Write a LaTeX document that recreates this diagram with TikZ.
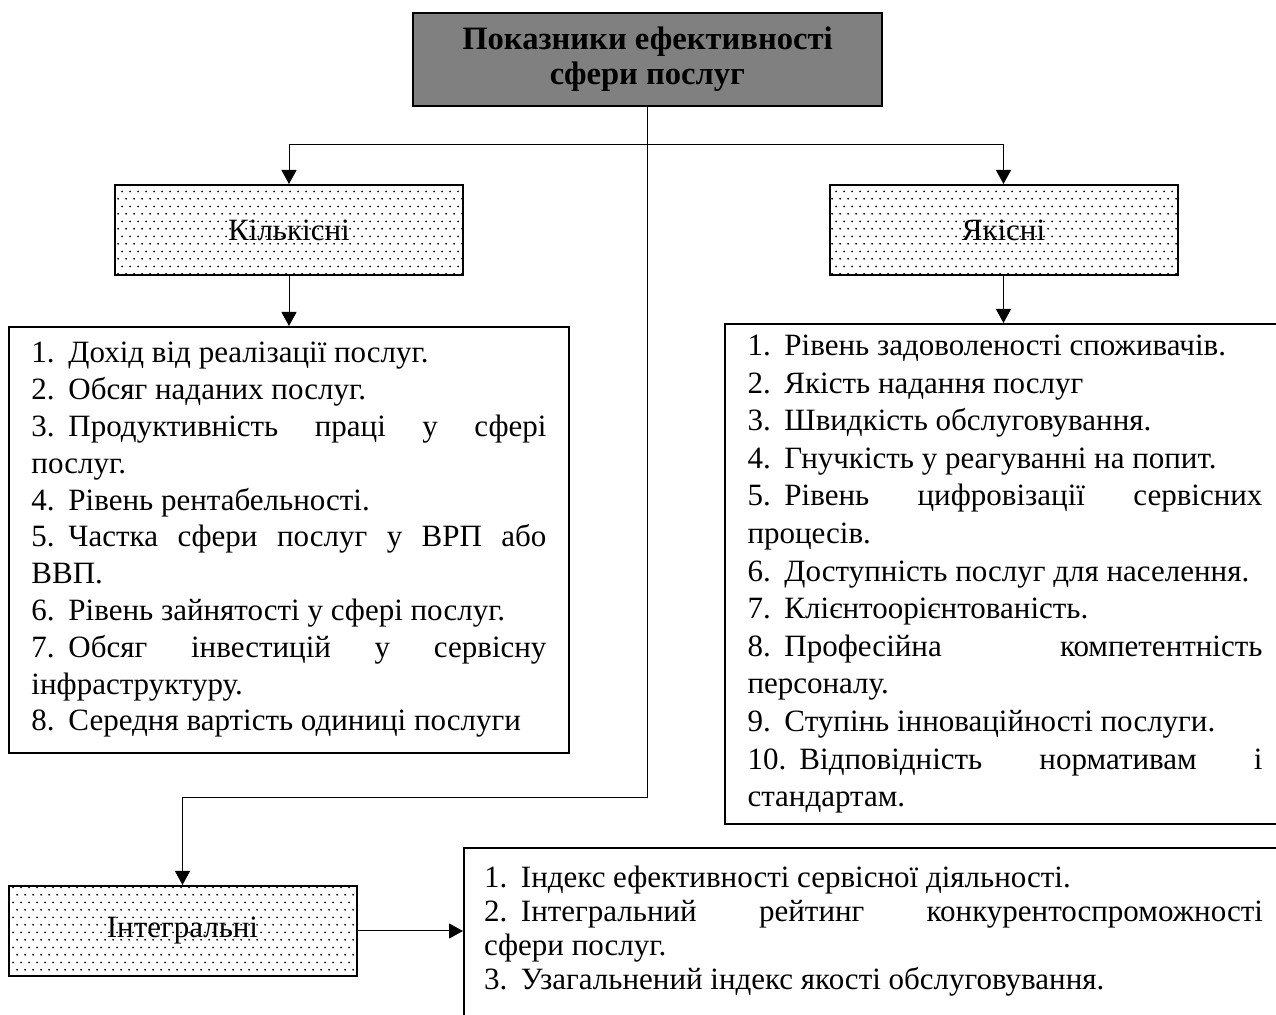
\documentclass[tikz,border=0pt]{standalone}
\usepackage{fontspec}
\setmainfont{Liberation Serif}
\usetikzlibrary{arrows.meta, positioning, calc, patterns.meta}
\hyphenpenalty=10000
\exhyphenpenalty=10000
\definecolor{titlegray}{RGB}{128,128,128}
\newcommand{\lstnum}[1]{\makebox[18.5pt][l]{#1.}}

\tikzdeclarepattern{
	name=sparsedots,
	type=uncolored,
	bottom left={(0pt,0pt)},
	top right={(4.2pt,7.4pt)},
	tile size={(4.2pt,7.4pt)},
	code={
		\fill (0.6pt,0.6pt) circle (0.5pt);
		\fill (2.7pt,4.3pt) circle (0.5pt);
	}
}

\begin{document}
\begin{tikzpicture}[
		x=0.5pt, y=-0.5pt,
		arr/.style={-{Triangle[width=7.5pt,length=7pt]}, line width=0.5pt},
		titlebox/.style={draw, line width=1pt, fill=titlegray, align=center,
				minimum width=234.5pt, minimum height=46.5pt, inner sep=0pt,
				font=\fontsize{16.3}{17.5}\selectfont\bfseries},
		dotbox/.style={draw, line width=1pt, pattern=sparsedots,
				minimum width=174pt, minimum height=45pt, inner sep=0pt,
				font=\fontsize{15.5}{17}\selectfont},
		listbox/.style={draw, line width=1pt, anchor=north west, align=justify,
				text width=#1, inner xsep=11.25pt,
				font=\fontsize{15.5}{18.4}\selectfont},
	]
	\useasboundingbox (0,0) rectangle (1276,1015);
	\clip (0,0) rectangle (1276,1015);

	\node[titlebox] (title) at (647.5,59.5) {Показники ефективності\\сфери послуг};

	\node[dotbox] (kil) at (289,230) {Кількісні};
	\node[dotbox] (yak) at (1003.5,230) {Якісні};
	\node[dotbox] (intg) at (182.5,931) {Інтегральні};

	\node[listbox=257.5pt, minimum height=213pt] (killist) at (8,326) {
		\lstnum{1}Дохід від реалізації послуг.\par
		\lstnum{2}Обсяг наданих послуг.\par
		\lstnum{3}Продуктивність праці у сфері\linebreak послуг.\par
		\lstnum{4}Рівень рентабельності.\par
		\lstnum{5}Частка сфери послуг у ВРП або\linebreak ВВП.\par
		\lstnum{6}Рівень зайнятості у сфері послуг.\par
		\lstnum{7}Обсяг інвестицій у сервісну\linebreak інфраструктуру.\par
		\lstnum{8}Середня вартість одиниці послуги};

	\node[listbox=257.5pt, inner ysep=5.5pt,
		font=\fontsize{15.5}{18.8}\selectfont] (yaklist) at (724,323) {
		\lstnum{1}Рівень задоволеності споживачів.\par
		\lstnum{2}Якість надання послуг\par
		\lstnum{3}Швидкість обслуговування.\par
		\lstnum{4}Гнучкість у реагуванні на попит.\par
		\lstnum{5}Рівень цифровізації сервісних\linebreak процесів.\par
		\lstnum{6}Доступність послуг для населення.\par
		\lstnum{7}Клієнтоорієнтованість.\par
		\lstnum{8}Професійна компетентність\linebreak персоналу.\par
		\lstnum{9}Ступінь інноваційності послуги.\par
		\makebox[26pt][l]{10.}Відповідність нормативам і\linebreak стандартам.};

	\node[listbox=389.5pt, inner xsep=10pt, inner ysep=9pt,
		font=\fontsize{15.5}{17}\selectfont] (intlist) at (463,847) {
		\lstnum{1}Індекс ефективності сервісної діяльності.\par
		\lstnum{2}Інтегральний рейтинг конкурентоспроможності\linebreak сфери послуг.\par
		\lstnum{3}Узагальнений індекс якості обслуговування.\par
		\rule{0pt}{30pt}};

	% connectors
	\coordinate (split) at (647.5,145);
	\coordinate (bend) at (647.5,798);
	\draw[line width=0.5pt] (title.south) -- (split);
	\draw[arr] (split) -| (kil.north);
	\draw[arr] (split) -| (yak.north);
	\draw[arr] (split) -- (bend) -| (intg.north);

	\draw[arr] (kil.south) -- (kil.south |- killist.north);
	\draw[arr] (yak.south) -- (yak.south |- yaklist.north);
	\draw[arr] (intg.east) -- (intg.east -| intlist.west);
\end{tikzpicture}
\end{document}
